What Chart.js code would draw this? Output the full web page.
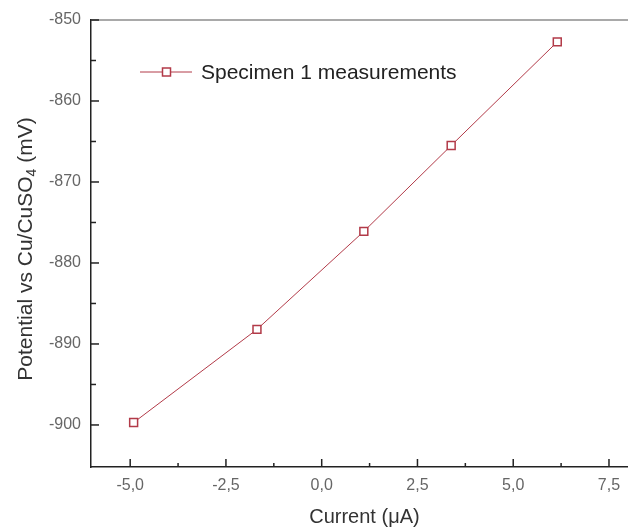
<!DOCTYPE html>
<html>
<head>
<meta charset="utf-8">
<script src="https://cdn.jsdelivr.net/npm/chart.js@4/dist/chart.umd.min.js"></script>
<style>
  html, body { margin: 0; padding: 0; background: #fff; }
  #wrap { width: 628px; height: 527px; overflow: hidden; position: relative; }
  canvas { display: block; }
</style>
</head>
<body>
<div id="wrap"><canvas id="c" width="645" height="527"></canvas></div>
<script>
// Polarisation measurements: applied current vs. potential
const currents = [-4.91, -1.69, 1.10, 3.38, 6.15];          // µA
const potentials = [-899.7, -888.2, -876.1, -865.5, -852.7]; // mV vs Cu/CuSO4
const seriesLabel = 'Specimen 1 measurements';

const xMajorTicks = [-5.0, -2.5, 0.0, 2.5, 5.0, 7.5];
const xMinorTicks = [-3.75, -1.25, 1.25, 3.75, 6.25];
const yMajorTicks = [-900, -890, -880, -870, -860, -850];
const yMinorTicks = [-895, -885, -875, -865, -855];

const FONT = '"Liberation Sans", Arial, sans-serif';
const RED = '#b23a48';

// inward tick marks, top frame line, y-axis title with subscript and legend
const decorations = {
  id: 'decorations',
  afterDraw(chart) {
    const ctx = chart.ctx;
    const area = chart.chartArea;
    const xs = chart.scales.x, ys = chart.scales.y;
    ctx.save();
    // top frame
    ctx.strokeStyle = '#8c8c8c';
    ctx.lineWidth = 1.5;
    ctx.beginPath();
    ctx.moveTo(area.left, area.top);
    ctx.lineTo(area.right, area.top);
    ctx.stroke();

    // ticks
    ctx.strokeStyle = '#222';
    ctx.lineWidth = 1.5;
    const tick = (x1, y1, x2, y2) => { ctx.beginPath(); ctx.moveTo(x1, y1); ctx.lineTo(x2, y2); ctx.stroke(); };
    xMajorTicks.forEach(v => { const p = xs.getPixelForValue(v); tick(p, area.bottom, p, area.bottom - 8); });
    xMinorTicks.forEach(v => { const p = xs.getPixelForValue(v); tick(p, area.bottom, p, area.bottom - 4); });
    yMajorTicks.forEach(v => { const p = ys.getPixelForValue(v); tick(area.left, p, area.left + 8, p); });
    yMinorTicks.forEach(v => { const p = ys.getPixelForValue(v); tick(area.left, p, area.left + 5, p); });

    // y-axis title
    ctx.fillStyle = '#333';
    ctx.textBaseline = 'middle';
    const main = 'Potential vs Cu/CuSO', sub = '4', tail = ' (mV)';
    ctx.font = '21px ' + FONT;
    const w1 = ctx.measureText(main).width, w3 = ctx.measureText(tail).width;
    ctx.font = '14px ' + FONT;
    const w2 = ctx.measureText(sub).width;
    const total = w1 + w2 + w3;
    ctx.translate(26, 249);
    ctx.rotate(-Math.PI / 2);
    let x0 = -total / 2;
    ctx.font = '21px ' + FONT;
    ctx.textAlign = 'left';
    ctx.fillText(main, x0, 0);
    ctx.font = '14px ' + FONT;
    ctx.fillText(sub, x0 + w1, 6);
    ctx.font = '21px ' + FONT;
    ctx.fillText(tail, x0 + w1 + w2, 0);
    ctx.restore();

    // legend
    ctx.save();
    const ly = 72;
    ctx.strokeStyle = RED;
    ctx.lineWidth = 1;
    tick(140, ly, 192, ly);
    ctx.fillStyle = '#fff';
    ctx.fillRect(162.5, ly - 4, 8, 8);
    ctx.lineWidth = 1.5;
    ctx.strokeRect(162.5, ly - 4, 8, 8);
    ctx.fillStyle = '#222';
    ctx.font = '21px ' + FONT;
    ctx.textBaseline = 'middle';
    ctx.textAlign = 'left';
    ctx.fillText(chart.data.datasets[0].label, 201, ly + 1);
    ctx.restore();
  }
};

new Chart(document.getElementById('c'), {
  type: 'scatter',
  data: {
    datasets: [{
      label: seriesLabel,
      data: currents.map((x, i) => ({ x, y: potentials[i] })),
      showLine: true,
      borderColor: RED,
      borderWidth: 1,
      pointStyle: 'rect',
      pointRadius: 5.6,
      pointBorderWidth: 1.5,
      pointBorderColor: RED,
      pointBackgroundColor: '#fff',
      tension: 0
    }]
  },
  options: {
    responsive: false,
    devicePixelRatio: 1,
    animation: false,
    layout: { padding: { top: 20, left: 0, right: 0, bottom: 0 } },
    plugins: { legend: { display: false }, tooltip: { enabled: false } },
    scales: {
      x: {
        type: 'linear',
        min: -6.023,
        max: 8.255,
        afterBuildTicks: s => { s.ticks = xMajorTicks.map(v => ({ value: v })); },
        afterFit: s => { s.height = 60; },
        grid: { display: false, drawTicks: false },
        border: { display: true, color: '#222', width: 1.5 },
        ticks: {
          padding: 9,
          color: '#666',
          font: { family: FONT, size: 16 },
          maxRotation: 0,
          autoSkip: false,
          callback: v => v.toFixed(1).replace('.', ',')
        },
        title: {
          display: true,
          text: 'Current (\u03bcA)',
          color: '#333',
          font: { family: FONT, size: 20, lineHeight: 1 },
          padding: { top: 0, bottom: 0 }
        }
      },
      y: {
        type: 'linear',
        min: -905.19,
        max: -850,
        afterBuildTicks: s => { s.ticks = yMajorTicks.map(v => ({ value: v })); },
        afterFit: s => { s.width = 91; },
        grid: { display: false, drawTicks: false },
        border: { display: true, color: '#222', width: 1.5 },
        ticks: {
          padding: 10,
          color: '#666',
          font: { family: FONT, size: 16 },
          autoSkip: false,
          callback: v => String(v)
        },
        title: { display: false }
      }
    }
  },
  plugins: [decorations]
});
</script>
</body>
</html>
